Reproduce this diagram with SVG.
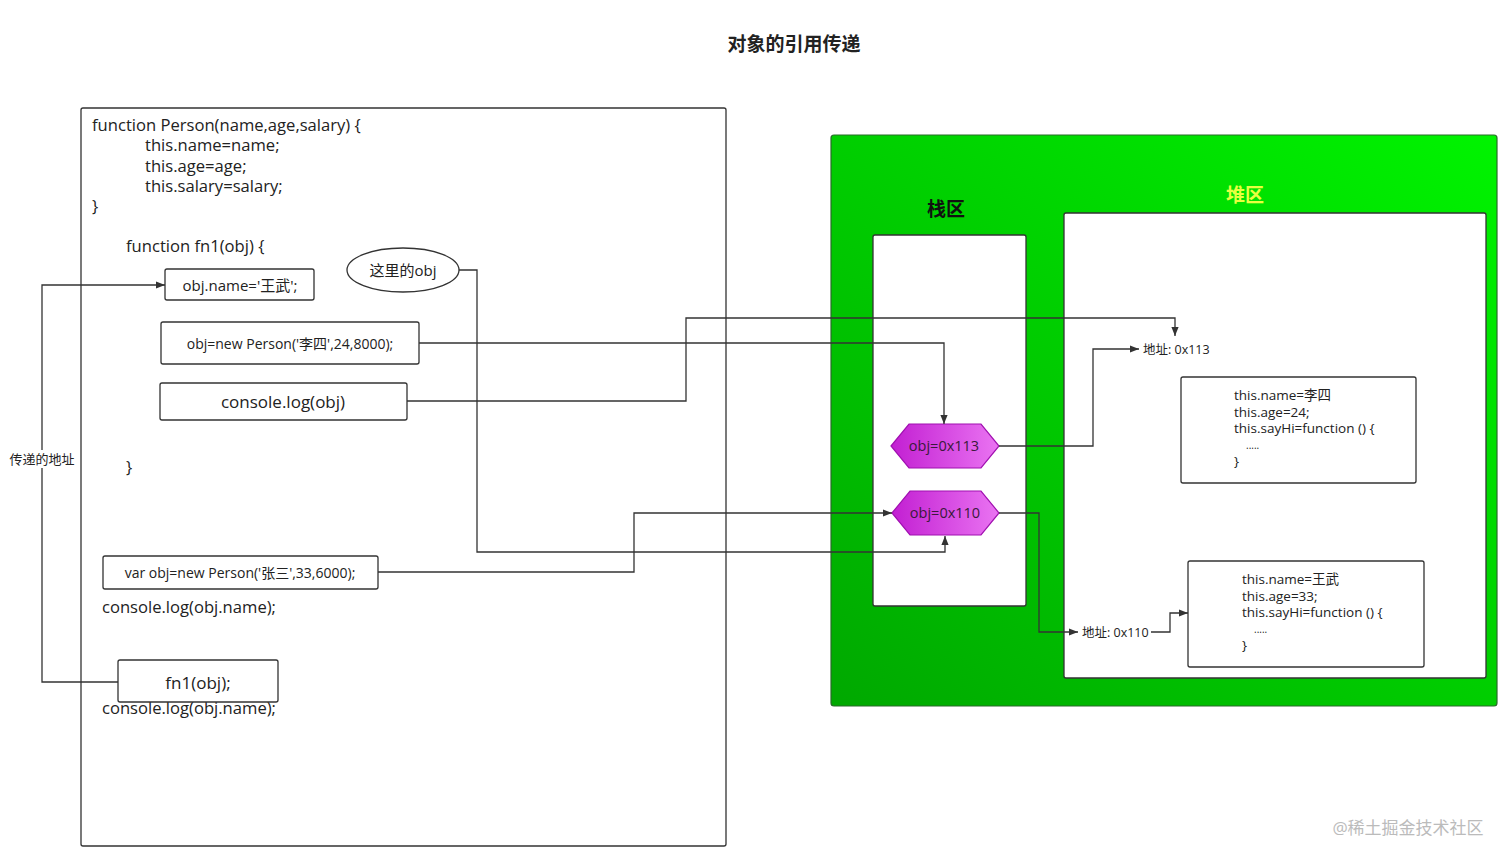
<svg xmlns="http://www.w3.org/2000/svg" width="1512" height="861" viewBox="0 0 1512 861">
<style>
text{font-family:"Open Sans","Noto Sans CJK SC",sans-serif;fill:#222}
.box{fill:#fff;stroke:#333;stroke-width:1.3}
.code{font-size:16.6px}
.mid{text-anchor:middle;dominant-baseline:central}
.heap{font-size:13.5px;fill:#222}
.conn{fill:none;stroke:#333;stroke-width:1.3}
.hex{fill:url(#hexg);stroke:#a010b0;stroke-width:1.2}
</style>
<defs>
<marker id="arr" viewBox="0 0 10 10" refX="10" refY="5" markerWidth="9" markerHeight="9" markerUnits="userSpaceOnUse" orient="auto">
<path d="M0,1 L10,5 L0,9 z" fill="#333"/>
</marker>
<linearGradient id="greeng" x1="0" y1="1" x2="1" y2="0">
<stop offset="0" stop-color="#00a800"/>
<stop offset="1" stop-color="#00f400"/>
</linearGradient>
<linearGradient id="hexg" x1="0" y1="0" x2="1" y2="0">
<stop offset="0" stop-color="#c21fd2"/>
<stop offset="1" stop-color="#ea74f2"/>
</linearGradient>
</defs>
<rect width="1512" height="861" fill="#fff"/>
<text x="794" y="44" class="mid" style="font-size:19px;font-weight:bold">对象的引用传递</text>

<g id="code-panel">
<rect x="81" y="108" width="645" height="738" rx="2" class="box"/>
<text class="code" x="92" y="131">function Person(name,age,salary) {</text>
<text class="code" x="145" y="151">this.name=name;</text>
<text class="code" x="145" y="172">this.age=age;</text>
<text class="code" x="145" y="192">this.salary=salary;</text>
<text class="code" x="92" y="212">}</text>
<text class="code" x="126" y="252">function fn1(obj) {</text>
<text class="code" x="126" y="473">}</text>
<text class="code" x="102" y="613">console.log(obj.name);</text>
<text class="code" x="102" y="714">console.log(obj.name);</text>
</g>

<g id="heap-panel">
<rect x="831" y="135" width="666" height="571" rx="3" fill="url(#greeng)" stroke="#2a6a2a" stroke-width="1.2"/>
<text x="946" y="209" class="mid" style="font-size:19px;font-weight:bold;fill:#111">栈区</text>
<text x="1245" y="195" class="mid" style="font-size:19px;font-weight:bold;fill:#e8ff40">堆区</text>
</g>
<g id="stack-box"><rect x="873" y="235" width="153" height="371" rx="2" class="box"/></g>
<g id="heap-box"><rect x="1064" y="213" width="422" height="465" rx="2" class="box"/></g>

<g id="obj-name-box"><rect x="165" y="269" width="149" height="31" rx="2" class="box"/><text x="240" y="285" class="mid" style="font-size:15px">obj.name='王武';</text></g>
<g id="here-obj"><ellipse cx="403" cy="270" rx="56" ry="22" class="box"/><text x="403" y="270" class="mid" style="font-size:15px">这里的obj</text></g>
<g id="new-lisi"><rect x="161" y="322" width="258" height="42" rx="2" class="box"/><text x="290" y="343" class="mid" style="font-size:14px">obj=new Person('李四',24,8000);</text></g>
<g id="console-obj"><rect x="160" y="383" width="247" height="37" rx="2" class="box"/><text x="283" y="401" class="mid" style="font-size:17px">console.log(obj)</text></g>
<g id="var-obj"><rect x="103" y="556" width="275" height="33" rx="2" class="box"/><text x="240" y="572" class="mid" style="font-size:14px">var obj=new Person('张三',33,6000);</text></g>
<g id="fn1-call"><rect x="118" y="660" width="160" height="42" rx="2" class="box"/><text x="198" y="682" class="mid" style="font-size:17px">fn1(obj);</text></g>

<g id="hex-113"><polygon points="891,446 909,424 981,424 999,446 981,468 909,468" class="hex"/><text x="944" y="445" class="mid" style="font-size:14.5px;fill:#3a1a3a">obj=0x113</text></g>
<g id="hex-110"><polygon points="892,513 910,491 981,491 999,513 981,535 910,535" class="hex"/><text x="945" y="512" class="mid" style="font-size:14.5px;fill:#3a1a3a">obj=0x110</text></g>

<g id="heap-lisi"><rect x="1181" y="377" width="235" height="106" rx="2" class="box"/>
<text class="heap" x="1234" y="400">this.name=李四</text>
<text class="heap" x="1234" y="417">this.age=24;</text>
<text class="heap" x="1234" y="433">this.sayHi=function () {</text>
<text class="heap" x="1246" y="449" style="font-size:10px">.....</text>
<text class="heap" x="1234" y="466">}</text>
</g>
<g id="heap-wangwu"><rect x="1188" y="561" width="236" height="106" rx="2" class="box"/>
<text class="heap" x="1242" y="584">this.name=王武</text>
<text class="heap" x="1242" y="601">this.age=33;</text>
<text class="heap" x="1242" y="617">this.sayHi=function () {</text>
<text class="heap" x="1254" y="633" style="font-size:10px">.....</text>
<text class="heap" x="1242" y="650">}</text>
</g>

<g id="connectors">
<path class="conn" d="M118 682 H42 V285 H165" marker-end="url(#arr)"/>
<path class="conn" d="M459 270 H477 V552 H945 V536" marker-end="url(#arr)"/>
<path class="conn" d="M419 343 H944 V424" marker-end="url(#arr)"/>
<path class="conn" d="M407 401 H686 V318 H1175 V336" marker-end="url(#arr)"/>
<path class="conn" d="M378 572 H634 V513 H892" marker-end="url(#arr)"/>
<path class="conn" d="M999 446 H1093 V349 H1139" marker-end="url(#arr)"/>
<path class="conn" d="M999 513 H1039 V632 H1078" marker-end="url(#arr)"/>
<path class="conn" d="M1151 632 H1170 V613 H1188" marker-end="url(#arr)"/>
</g>

<g id="label-pass"><rect x="8" y="450" width="68" height="18" fill="#fff"/><text x="42" y="459" class="mid" style="font-size:13px">传递的地址</text></g>
<g id="addr-113"><text x="1143" y="349" style="font-size:12.5px;dominant-baseline:central">地址: 0x113</text></g>
<g id="addr-110"><text x="1082" y="632" style="font-size:12.5px;dominant-baseline:central">地址: 0x110</text></g>

<text x="1408" y="827" class="mid" style="font-size:17px;fill:#bbb">@稀土掘金技术社区</text>
</svg>
